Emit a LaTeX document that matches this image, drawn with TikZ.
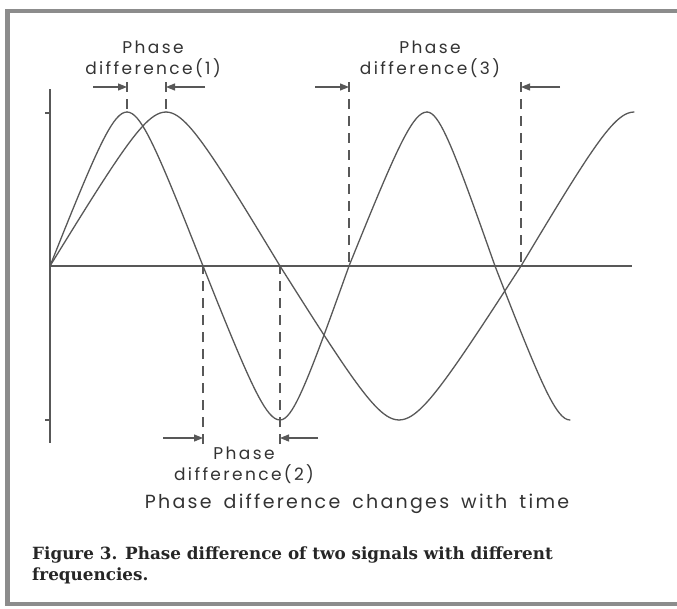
\documentclass[tikz,border=0pt]{standalone}
\usepackage{fontspec}
\setsansfont{Poppins}
\newfontfamily\capfont{DejaVu Serif}
\usetikzlibrary{arrows.meta}
\definecolor{inkgray}{RGB}{88, 88, 88}
\definecolor{framegray}{RGB}{140, 140, 140}

\begin{document}
\begin{tikzpicture}[x=1pt, y=-1pt, >={Triangle[length=9pt, width=7pt]},
    wave/.style={inkgray, line width=1.3pt, line cap=round},
    guide/.style={inkgray, line width=1.2pt, dash pattern=on 10pt off 7pt},
    dimarrow/.style={->, inkgray, line width=1.2pt},
    lbl/.style={font=\sffamily\fontsize{17}{21}\selectfont\addfontfeatures{LetterSpace=14}, text=black!80, align=center, inner sep=0pt}]
    \useasboundingbox (0,0) rectangle (677,608);
    \fill[white] (0,0) rectangle (677,608);
    \draw[framegray, line width=4.5pt] (677,11) -- (7.5,11) -- (7.5,604) -- (677,604);

    % axes
    \coordinate (origin) at (50,266);
    \draw[inkgray, line width=1.2pt] (50,89) -- (50,443);
    \draw[inkgray, line width=1.2pt] (origin) -- (632,266);
    \draw[inkgray, line width=1.2pt] (45,113) -- (50,113);
    \draw[inkgray, line width=1.2pt] (45,420) -- (50,420);

    % fast signal, one quarter wave at a time
    \foreach \a/\b [count=\n] in {50/127, 127/203, 203/280, 280/349, 349/427, 427/495, 495/570}
        \draw[wave] plot[domain=0:1, samples=30]
            ({\a+\x*(\b-\a)}, {266-154*asin(0.91*sin((\n-1+\x)*90))/asin(0.91)});
    % slow signal
    \foreach \a/\b [count=\n] in {50/166, 166/280, 280/399, 399/521, 521/634}
        \draw[wave] plot[domain=0:1, samples=40]
            ({\a+\x*(\b-\a)}, {266-154*asin(0.93*sin((\n-1+\x)*90))/asin(0.93)});

    % phase difference (1)
    \coordinate (a1) at (127,82);  \coordinate (a1e) at (127,113);
    \coordinate (b1) at (166,82);  \coordinate (b1e) at (166,113);
    \draw[guide] (a1) -- (a1e);
    \draw[guide] (b1) -- (b1e);
    \draw[dimarrow] (93,87) -- (a1 |- 0,87);
    \draw[dimarrow] (205,87) -- (b1 |- 0,87);
    \node[lbl] (pd1) at (153,59.5) {Phase\\difference(1)};

    % phase difference (2)
    \coordinate (a2) at (203,444);
    \coordinate (b2) at (280,444);
    \draw[guide] (a2) -- (203,266);
    \draw[guide] (b2) -- (280,266);
    \draw[dimarrow] (163,438) -- (a2 |- 0,438);
    \draw[dimarrow] (318,438) -- (b2 |- 0,438);
    \node[lbl] (pd2) at (244,465) {Phase\\difference(2)};

    % phase difference (3)
    \coordinate (a3) at (349,82);
    \coordinate (b3) at (521,82);
    \draw[guide] (a3) -- (349,266);
    \draw[guide] (b3) -- (521,266);
    \draw[dimarrow] (315,87) -- (a3 |- 0,87);
    \draw[dimarrow] (560,87) -- (b3 |- 0,87);
    \node[lbl] (pd3) at (430,59.5) {Phase\\difference(3)};

    \node[lbl, font=\sffamily\fontsize{19}{21}\selectfont\addfontfeatures{LetterSpace=12}] (note) at (357,504)
        {\spaceskip=12pt\relax Phase difference changes with time};

    \node[anchor=north west, align=left, inner sep=0pt, text=black!85,
          font=\capfont\bfseries\fontsize{16.8}{21}\selectfont] (caption) at (32,546.5)
        {Figure 3. Phase difference of two signals with different\\frequencies.};
\end{tikzpicture}
\end{document}
